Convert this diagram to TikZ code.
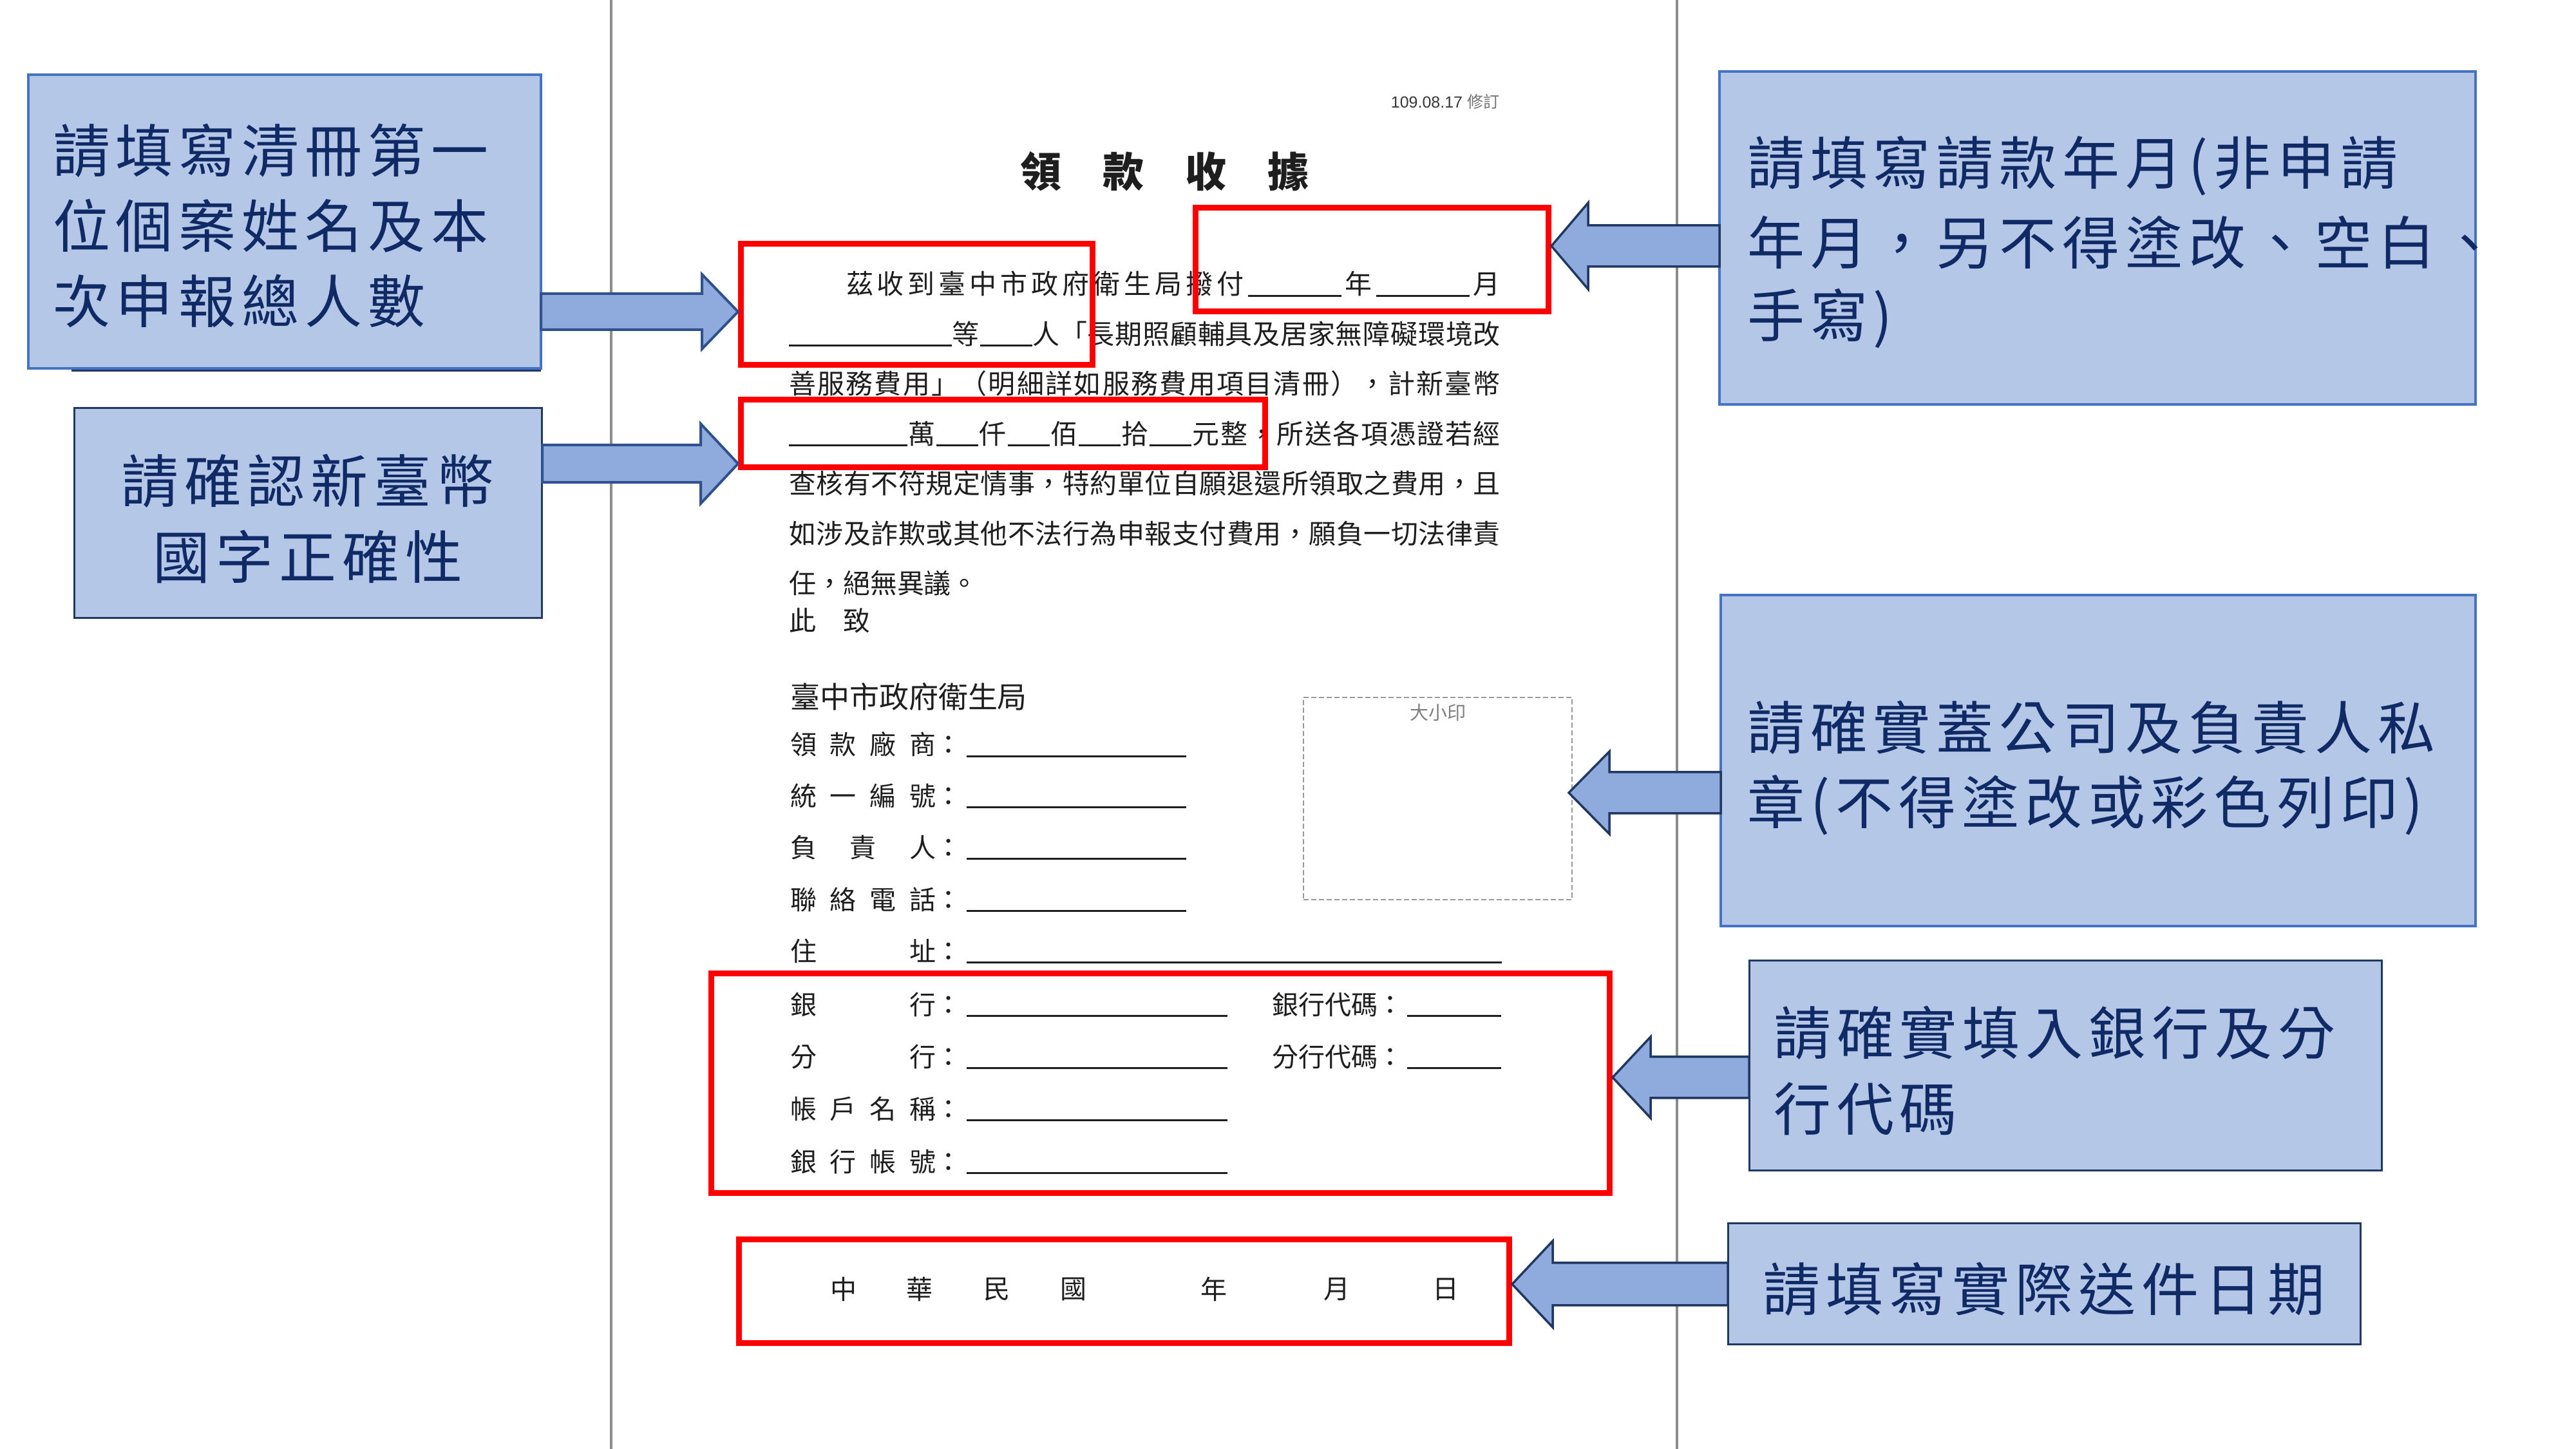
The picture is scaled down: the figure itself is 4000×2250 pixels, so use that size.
\documentclass[tikz,border=0pt]{standalone}
\usepackage{fontspec}
\setmainfont{Liberation Sans}
\newfontfamily\cjk{Noto Sans CJK TC}
\definecolor{calfill}{HTML}{B4C7E7}
\definecolor{calborder}{HTML}{4472C4}
\definecolor{navyb}{HTML}{203864}
\definecolor{caltext}{HTML}{102A66}
\definecolor{arrfill}{HTML}{8FAADC}
\definecolor{arrborderA}{HTML}{2F528F}
\definecolor{arrborderB}{HTML}{1F3864}
\definecolor{pageline}{HTML}{8C8C8C}
\definecolor{formtext}{HTML}{1E1E1E}
\definecolor{redbox}{HTML}{FF0000}
\definecolor{stampgray}{HTML}{9A9A9A}
% spread characters evenly over a given width
\def\spreadend{SPREADEND}
\def\spreadloop#1{\ifx#1\spreadend\else#1\hfill\expandafter\spreadloop\fi}
\newcommand\spreadto[2]{\hbox to #1{\spreadloop#2\spreadend\unskip}}
% letter-spaced text
\def\kernloop#1{\ifx#1\spreadend\else#1\kern0.9pt\expandafter\kernloop\fi}
\newcommand\spaced[1]{\kernloop#1\spreadend\unkern}
\newcommand\UL[1]{\rule[-0.4pt]{#1pt}{0.3pt}}
\def\ua{\UL{14.5}}
\def\ub{\UL{25.3}}
\def\uc{\UL{8.1}}
\def\ud{\UL{18.4}}
\def\ue{\UL{6.5}}
\newcommand\lab[1]{\spreadto{22.6pt}{#1}\makebox[3.9pt][c]{：}\hspace{0.9pt}}
\tikzset{
  callout/.style={draw=calborder, line width=0.4pt, fill=calfill, inner sep=0pt},
  calloutdark/.style={draw=navyb, line width=0.3pt, fill=calfill, inner sep=0pt},
  caltxt/.style={font=\cjk\fontsize{8.9pt}{11.9pt}\selectfont, text=caltext, inner sep=0pt, anchor=west},
  redframe/.style={draw=redbox, line width=0.9pt, inner sep=0pt},
  blockA/.style={fill=arrfill, draw=arrborderA, line width=0.4pt, line join=miter},
  blockB/.style={fill=arrfill, draw=arrborderB, line width=0.35pt, line join=miter},
  formtxt/.style={font=\cjk\fontsize{4.2pt}{5pt}\selectfont, text=formtext, inner sep=0pt, anchor=west},
  rowtxt/.style={font=\cjk\fontsize{4.1pt}{5pt}\selectfont, text=formtext, inner sep=0pt, anchor=west},
  stampbox/.style={draw=stampgray, line width=0.2pt, dash pattern=on 0.8pt off 0.4pt, inner sep=0pt},
}
% block arrow: style, start x, head base x, tip x, centre y, shaft half, head half
\newcommand\blockarrow[7]{\draw[#1] (#2,#5-#6) -- (#3,#5-#6) -- (#3,#5-#7) -- (#4,#5) -- (#3,#5+#7) -- (#3,#5+#6) -- (#2,#5+#6) -- cycle;}
\begin{document}
\begin{tikzpicture}[x=0.1pt,y=-0.1pt]
\useasboundingbox (0,0) rectangle (4000,2250);
\fill[white] (0,0) rectangle (4000,2250);

% page edges
\draw[pageline, line width=0.4pt] (949,0) -- (949,2250);
\draw[pageline, line width=0.4pt] (2604,0) -- (2604,2250);

% ---------- form ----------
\node[anchor=east, inner sep=0pt, font=\fontsize{2.5pt}{3pt}\selectfont, text=black!78] (rev) at (2330,158) {109.08.17 {\cjk\color{black!55}修訂}};
\node[inner sep=0pt, font=\cjk\bfseries\fontsize{6.4pt}{7pt}\selectfont, text=formtext] (title) at (1808,266) {領　款　收　據};

\node[formtxt] (l1) at (1312,441) {\spreadto{101.6pt}{茲收到臺中市政府衛生局撥付\ua 年\ua 月}};
\node[formtxt] (l2) at (1223,518.5) {\spreadto{110.5pt}{\ub 等\uc 人「長期照顧輔具及居家無障礙環境改}};
\node[formtxt] (l3) at (1223,596) {\spreadto{110.5pt}{善服務費用」（明細詳如服務費用項目清冊），計新臺幣}};
\node[formtxt] (l4) at (1223,673.5) {\spreadto{110.5pt}{\ud 萬\ue 仟\ue 佰\ue 拾\ue 元整，所送各項憑證若經}};
\node[formtxt] (l5) at (1223,751) {\spreadto{110.5pt}{查核有不符規定情事，特約單位自願退還所領取之費用，且}};
\node[formtxt] (l6) at (1223,828.5) {\spreadto{110.5pt}{如涉及詐欺或其他不法行為申報支付費用，願負一切法律責}};
\node[formtxt] (l7) at (1223,906) {任，絕無異議。};
\node[formtxt] (l8) at (1223,964) {此　致};

\node[formtxt, font=\cjk\fontsize{4.6pt}{5pt}\selectfont] (bureau) at (1225,1082) {臺中市政府衛生局};
\node[rowtxt] (f1) at (1225,1156) {\lab{領款廠商}\UL{34.1}};
\node[rowtxt] (f2) at (1225,1236) {\lab{統一編號}\UL{34.1}};
\node[rowtxt] (f3) at (1225,1316) {\lab{負責人}\UL{34.1}};
\node[rowtxt] (f4) at (1225,1397) {\lab{聯絡電話}\UL{34.1}};
\node[rowtxt] (f5) at (1225,1477) {\lab{住址}\UL{83.1}};
\node[rowtxt] (f6) at (1225,1560) {\lab{銀行}\UL{40.5}\hspace{7pt}銀行代碼\makebox[3.9pt][c]{：}\hspace{0.6pt}\UL{14.6}};
\node[rowtxt] (f7) at (1225,1641) {\lab{分行}\UL{40.5}\hspace{7pt}分行代碼\makebox[3.9pt][c]{：}\hspace{0.6pt}\UL{14.6}};
\node[rowtxt] (f8) at (1225,1722) {\lab{帳戶名稱}\UL{40.5}};
\node[rowtxt] (f9) at (1225,1804) {\lab{銀行帳號}\UL{40.5}};

\foreach \x/\c [count=\i] in {1310/中,1428/華,1548/民,1667/國,1885/年,2076/月,2245/日}
  \node[rowtxt, anchor=center] (d\i) at (\x,2002) {\c};

\node[stampbox, minimum width=41.7pt, minimum height=31.4pt] (stamp) at (2232.5,1240) {};
\node[inner sep=0pt, font=\cjk\fontsize{2.9pt}{3pt}\selectfont, text=black!50] (stamplab) at (2233,1107) {大小印};

% ---------- red frames ----------
\node[redframe, minimum width=54.6pt, minimum height=18.8pt] (r1) at (1423.5,472.5) {};
\node[redframe, minimum width=81.4pt, minimum height=10.5pt] (r2) at (1557.5,673) {};
\node[redframe, minimum width=54.8pt, minimum height=16.1pt] (r3) at (2130.5,403) {};
\node[redframe, minimum width=139.5pt, minimum height=34.1pt] (r4) at (1802,1682) {};
\node[redframe, minimum width=119.6pt, minimum height=16.1pt] (r5) at (1745.5,2005) {};

% ---------- callouts ----------
\draw[navyb, line width=0.35pt] (111,575) -- (840,575);
\node[callout, minimum width=79.6pt, minimum height=45.6pt] (c1) at (442,344) {};
\node[calloutdark, minimum width=72.7pt, minimum height=32.6pt] (c2) at (478.5,797) {};
\node[callout, minimum width=117.4pt, minimum height=51.7pt] (c3) at (3257,369.5) {};
\node[callout, minimum width=117.2pt, minimum height=51.4pt] (c4) at (3258,1181) {};
\node[calloutdark, minimum width=98.2pt, minimum height=32.6pt] (c5) at (3207,1655) {};
\node[calloutdark, minimum width=98.2pt, minimum height=18.8pt] (c6) at (3174,1994) {};

\node[caltxt] (t1a) at (80,234) {\spaced{請填寫清冊第一}};
\node[caltxt] (t1b) at (80,351) {\spaced{位個案姓名及本}};
\node[caltxt] (t1c) at (80,468) {\spaced{次申報總人數}};

\node[caltxt, anchor=center] (t2a) at (478,747) {\spaced{請確認新臺幣}};
\node[caltxt, anchor=center] (t2b) at (478,865) {\spaced{國字正確性}};

\node[caltxt] (t3a) at (2711,258) {\spaced{請填寫請款年月(非申請}};
\node[caltxt] (t3b) at (2711,377) {\spaced{年月，另不得塗改、空白、}};
\node[caltxt] (t3c) at (2711,495) {\spaced{手寫)}};

\node[caltxt] (t4a) at (2711,1130) {\spaced{請確實蓋公司及負責人私}};
\node[caltxt] (t4b) at (2711,1250) {\spaced{章(不得塗改或彩色列印)}};

\node[caltxt] (t5a) at (2752,1604) {\spaced{請確實填入銀行及分}};
\node[caltxt] (t5b) at (2752,1722) {\spaced{行代碼}};

\node[caltxt, anchor=center] (t6a) at (3174,2002) {\spaced{請填寫實際送件日期}};

% ---------- block arrows ----------
\blockarrow{blockA}{840}{1090}{1146}{484}{28}{58}
\blockarrow{blockA}{842}{1088}{1146}{720}{29}{62}
\blockarrow{blockB}{2670}{2466}{2409}{382}{32}{67}
\blockarrow{blockB}{2672}{2499}{2436}{1231}{32}{64}
\blockarrow{blockB}{2716}{2563}{2504}{1673}{32}{63}
\blockarrow{blockB}{2683}{2411}{2348}{1994}{33}{67}
\end{tikzpicture}
\end{document}
